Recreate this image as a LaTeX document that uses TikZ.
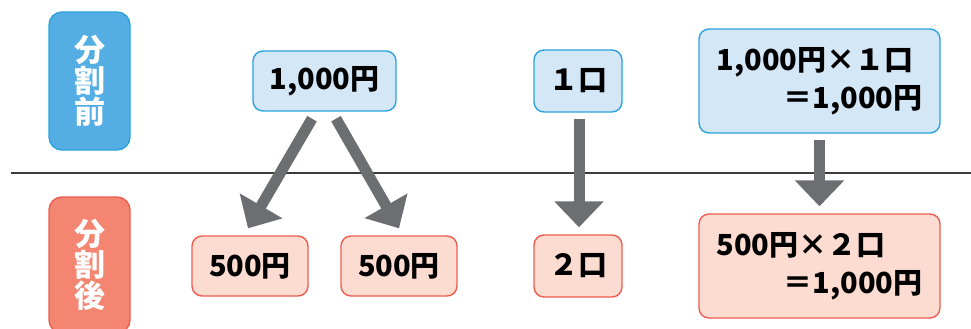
\documentclass[tikz,border=0pt]{standalone}
\usepackage{fontspec}
\setmainfont{Noto Sans CJK JP}
\usetikzlibrary{arrows.meta,calc}
\definecolor{lblue}{HTML}{D3E7F7}
\definecolor{bblue}{HTML}{2BA3DE}
\definecolor{labblue}{HTML}{55AEE3}
\definecolor{lred}{HTML}{FCDCD1}
\definecolor{bred}{HTML}{EE5D50}
\definecolor{labred}{HTML}{F48570}
\definecolor{agray}{HTML}{6D6E72}
\definecolor{linegray}{HTML}{3C3C3C}
\begin{document}
\begin{tikzpicture}[x=1pt,y=-1pt,
  box/.style={rounded corners=10pt, line width=1.4pt, inner sep=0pt,
    font=\fontsize{29}{38}\selectfont\bfseries},
  bluebox/.style={box, draw=bblue, fill=lblue},
  redbox/.style={box, draw=bred, fill=lred},
  lab/.style={rounded corners=13pt, line width=1.4pt, text=white, align=center,
    inner sep=0pt, minimum width=81pt, font=\fontsize{31}{31}\selectfont\bfseries},
  bigarrow/.style={draw=agray, line width=11pt, -{Triangle[width=48pt,length=26pt]}},
]
\useasboundingbox (0,0) rectangle (971,329);

\draw[linegray, line width=1.5pt] (11,173) -- (971,173);

\node[lab, draw=bblue, fill=labblue, minimum height=138pt] (before) at (89.5,81) {分\\割\\前};
\node[lab, draw=bred, fill=labred, minimum height=136pt] (after) at (89.5,265) {分\\割\\後};

\node[bluebox, minimum width=143pt, minimum height=60pt] (b1) at (324.5,81) {1,000円};
\node[redbox, minimum width=116pt, minimum height=60pt] (a1) at (250,266) {500円};
\node[redbox, minimum width=116pt, minimum height=60pt] (a2) at (399,266) {500円};

\node[bluebox, minimum width=88pt, minimum height=62pt] (b2) at (578,81) {１口};
\node[redbox, minimum width=88pt, minimum height=62pt] (a3) at (578,266) {２口};

\node[bluebox, minimum width=241pt, minimum height=104pt, text width=206pt, align=left] (b3) at (819.5,81)
  {1,000円×１口\\\hfill＝1,000円};
\node[redbox, minimum width=241pt, minimum height=104pt, text width=206pt, align=left] (a4) at (819.5,266)
  {500円×２口\\\hfill＝1,000円};

\draw[bigarrow] ($(b1.south)+(-12.5,7)$) -- ($(a1.north)+(-2,-7)$);
\draw[bigarrow] ($(b1.south)+(11.5,7)$) -- ($(a2.north)+(0,-7)$);
\draw[bigarrow] ($(b2.south)+(1,6)$) -- ($(a3.north)+(1,-7)$);
\draw[bigarrow] ($(b3.south)+(0,6)$) -- ($(a4.north)+(0,-7)$);
\end{tikzpicture}
\end{document}
